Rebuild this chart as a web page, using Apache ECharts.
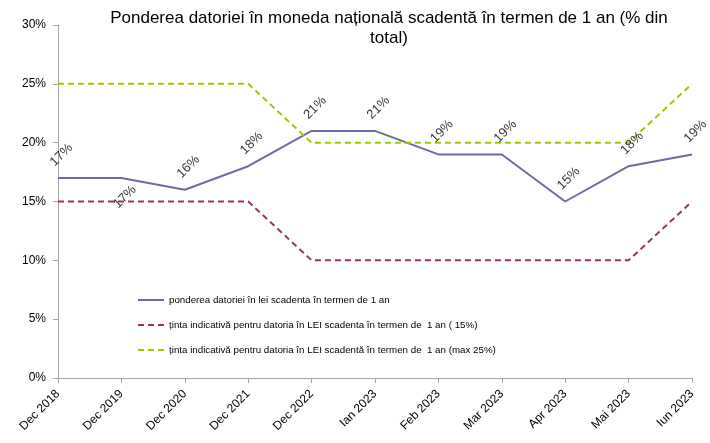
<!DOCTYPE html>
<html><head><meta charset="utf-8">
<script src="https://cdn.jsdelivr.net/npm/echarts@6/dist/echarts.min.js"></script>
<style>html,body{margin:0;padding:0;background:#fff}#c{width:710px;height:443px}</style>
</head><body><div id="c"></div>
<script>
var categories = ['Dec 2018','Dec 2019','Dec 2020','Dec 2021','Dec 2022','Ian 2023','Feb 2023','Mar 2023','Apr 2023','Mai 2023','Iun 2023'];
var pondere = [17,17,16,18,21,21,19,19,15,18,19];
var tinta15 = [15,15,15,15,10,10,10,10,10,10,15];
var tinta25 = [25,25,25,25,20,20,20,20,20,20,25];
var yTicks = [0,5,10,15,20,25,30];
var seriesNames = ['ponderea datoriei în lei scadenta în termen de 1 an',
  'ținta indicativă pentru datoria în LEI scadenta în termen de  1 an ( 15%)',
  'ținta indicativă pentru datoria în LEI scadentă în termen de  1 an (max 25%)'];

var FONT = 'Liberation Sans, Arial, sans-serif';
var chart = echarts.init(document.getElementById('c'));
var labelData = pondere.map(function(v,i){
  if (i === 1) return {value:v, label:{position:'bottom', distance:22}};
  return v;
});
chart.setOption({
  animation:false,
  title:{text:'Ponderea datoriei în moneda națională scadentă în termen de 1 an (% din\ntotal)',
    left:384, top:3, textAlign:'center',
    textStyle:{fontFamily:FONT, fontSize:17, fontWeight:'normal', color:'#000', lineHeight:20, align:'center'}},
  grid:{left:58, right:18, top:25, bottom:65, containLabel:false},
  legend:{orient:'vertical', left:132, top:290, itemWidth:26, itemHeight:10, itemGap:15,
    itemStyle:{opacity:0},
    textStyle:{fontFamily:FONT, fontSize:9.75, color:'#000'},
    data:seriesNames},
  xAxis:{type:'category', data:categories, boundaryGap:false,
    axisLine:{lineStyle:{color:'#a6a6a6', width:1}},
    axisTick:{alignWithLabel:true, length:5, lineStyle:{color:'#a6a6a6'}},
    axisLabel:{rotate:45, interval:0, fontFamily:FONT, fontSize:12, color:'#000', margin:14}},
  yAxis:{type:'value', min:yTicks[0], max:yTicks[yTicks.length-1], interval:5,
    axisLine:{show:true, lineStyle:{color:'#a6a6a6'}},
    axisTick:{show:true, length:5, lineStyle:{color:'#a6a6a6'}},
    splitLine:{show:false},
    axisLabel:{formatter:'{value}%', fontFamily:FONT, fontSize:12, color:'#000', margin:12}},
  series:[
    {name:seriesNames[0], type:'line', data:pondere, symbol:'none',
     lineStyle:{color:'#6B6BA6', width:2}, itemStyle:{color:'#6B6BA6'}, z:3},
    {name:seriesNames[1], type:'line', data:tinta15, symbol:'none',
     lineStyle:{color:'#993366', width:2, type:[6,4]}, itemStyle:{color:'#993366'}},
    {name:seriesNames[2], type:'line', data:tinta25, symbol:'none',
     lineStyle:{color:'#99CC00', width:2, type:[6,4]}, itemStyle:{color:'#99CC00'}},
    {name:'labels', type:'scatter', data:labelData, symbol:'circle', symbolSize:1,
     itemStyle:{color:'rgba(0,0,0,0)'}, silent:true, z:5,
     label:{show:true, position:'top', distance:19, rotate:45, align:'center', verticalAlign:'middle',
       offset:[5,0], formatter:'{c}%', fontFamily:FONT, fontSize:13, color:'#000'}}
  ]
});
</script></body></html>
